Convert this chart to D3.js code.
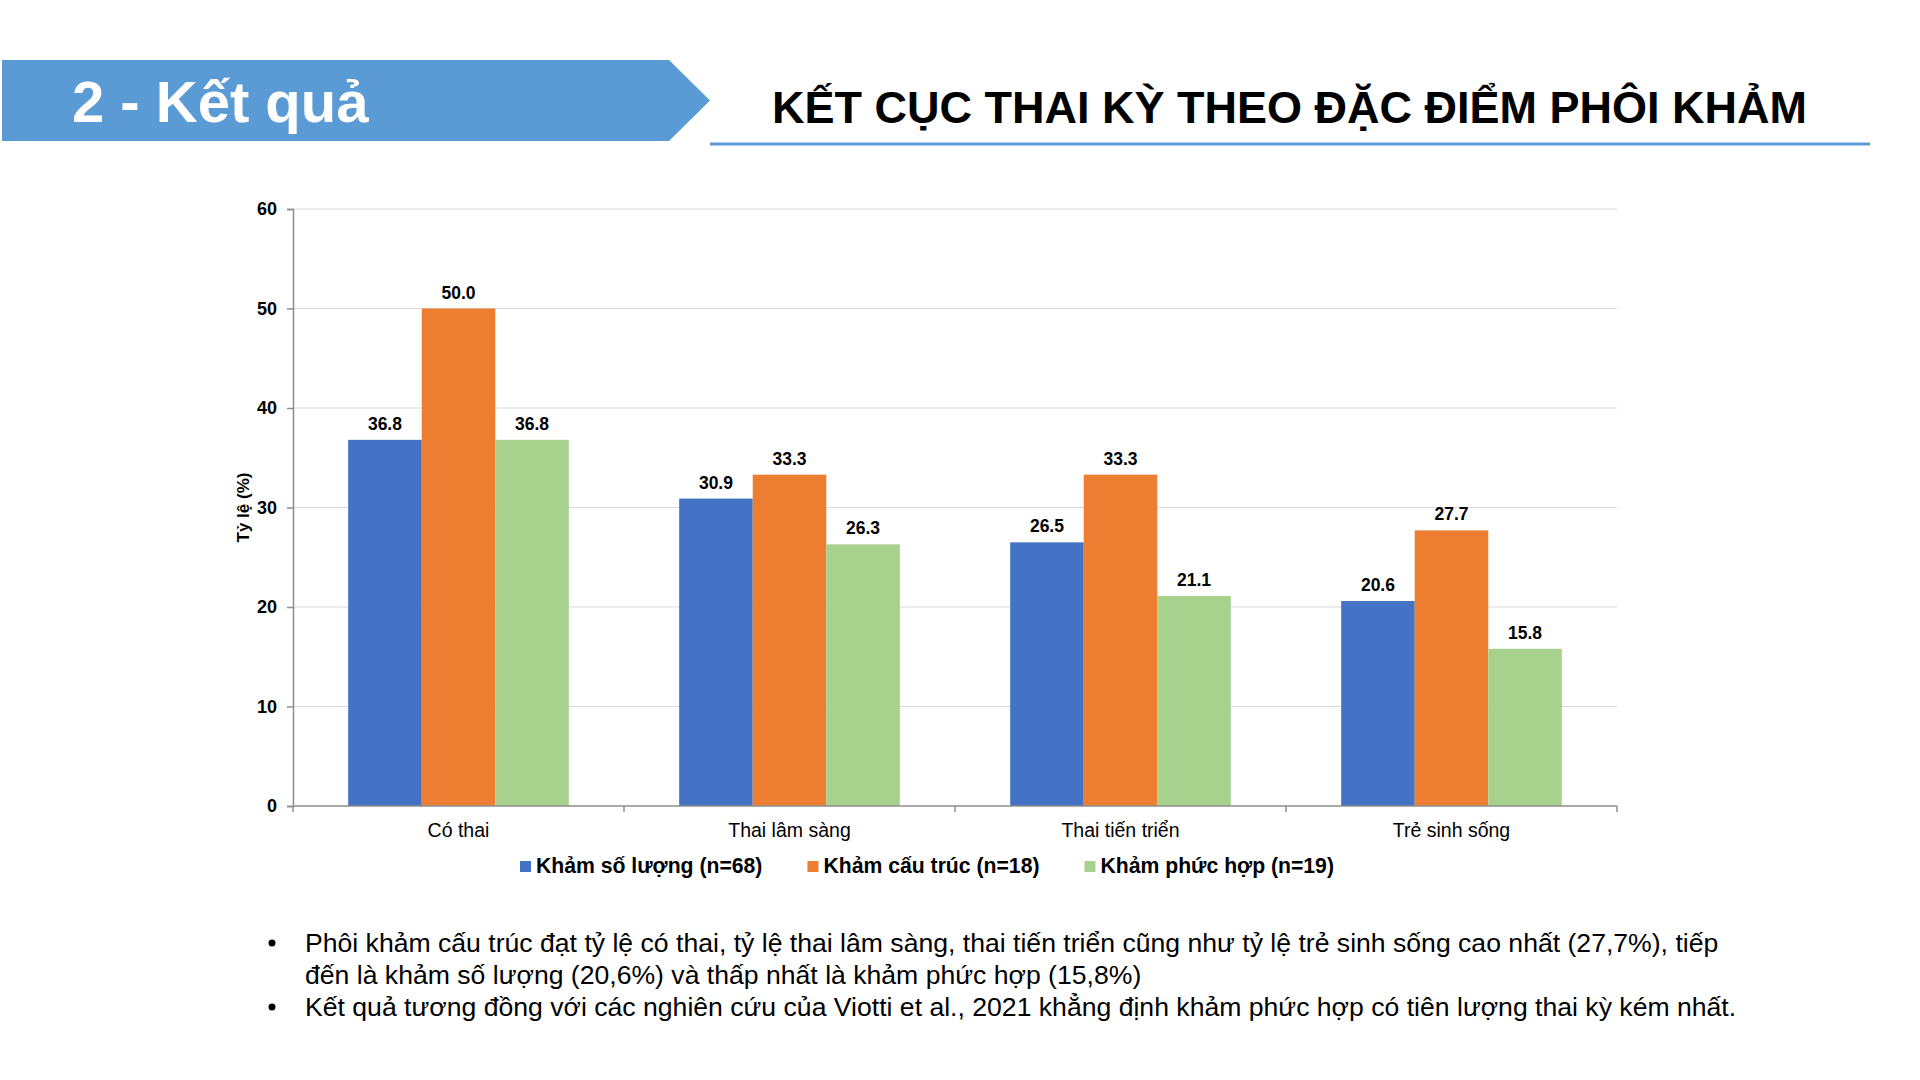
<!DOCTYPE html>
<html lang="vi">
<head>
<meta charset="utf-8">
<title>Kết cục thai kỳ theo đặc điểm phôi khảm</title>
<script src="https://cdn.jsdelivr.net/npm/d3@7"></script>
<style>
  html, body { margin: 0; padding: 0; background: #fff; }
  svg { display: block; font-family: "Liberation Sans", Arial, sans-serif; }
</style>
</head>
<body>
<div id="chart"></div>
<script>
// data
const categories = ['Có thai', 'Thai lâm sàng', 'Thai tiến triển', 'Trẻ sinh sống'];
const seriesNames = ['Khảm số lượng (n=68)', 'Khảm cấu trúc (n=18)', 'Khảm phức hợp (n=19)'];
const khamSoLuong = [36.8, 30.9, 26.5, 20.6];
const khamCauTruc = [50.0, 33.3, 33.3, 27.7];
const khamPhucHop = [36.8, 26.3, 21.1, 15.8];
const yTicks = [0, 10, 20, 30, 40, 50, 60];
const bullets = [
    ['Phôi khảm cấu trúc đạt tỷ lệ có thai, tỷ lệ thai lâm sàng, thai tiến triển cũng như tỷ lệ trẻ sinh sống cao nhất (27,7%), tiếp',
     'đến là khảm số lượng (20,6%) và thấp nhất là khảm phức hợp (15,8%)'],
    ['Kết quả tương đồng với các nghiên cứu của Viotti et al., 2021 khẳng định khảm phức hợp có tiên lượng thai kỳ kém nhất.']
];

const colors = ['#4472C4', '#ED7D31', '#A9D18E'];
const seriesValues = [khamSoLuong, khamCauTruc, khamPhucHop];

const width = 1920, height = 1080;
const svg = d3.select('#chart').append('svg')
    .attr('width', width)
    .attr('height', height);

// header banner
svg.append('polygon')
    .attr('points', '2,60 669,60 710,100.5 669,141 2,141')
    .attr('fill', '#5B9BD5');
svg.append('text')
    .attr('x', 72).attr('y', 122)
    .attr('fill', '#fff')
    .attr('font-size', 58)
    .attr('font-weight', 'bold')
    .text('2 - Kết quả');

svg.append('text')
    .attr('x', 772).attr('y', 123)
    .attr('fill', '#000')
    .attr('font-size', 45)
    .attr('font-weight', 'bold')
    .text('KẾT CỤC THAI KỲ THEO ĐẶC ĐIỂM PHÔI KHẢM');
svg.append('rect')
    .attr('x', 710).attr('y', 142.5)
    .attr('width', 1160).attr('height', 3)
    .attr('fill', '#5B9BD5');

// chart area
const plot = { left: 293, right: 1617, top: 209, bottom: 806 };

const x0 = d3.scaleBand()
    .domain(categories)
    .range([plot.left, plot.right])
    .padding(0);

const x1 = d3.scaleBand()
    .domain(d3.range(seriesNames.length))
    .range([0, x0.bandwidth()])
    .paddingInner(0)
    .paddingOuter(0.75);

const y = d3.scaleLinear()
    .domain([0, 60])
    .range([plot.bottom, plot.top]);

// gridlines
svg.append('g')
    .selectAll('line')
    .data(yTicks.filter(d => d > 0))
    .enter().append('line')
    .attr('x1', plot.left).attr('x2', plot.right)
    .attr('y1', d => y(d)).attr('y2', d => y(d))
    .attr('stroke', '#D9D9D9')
    .attr('stroke-width', 1);

// bars
const groups = svg.append('g')
    .selectAll('g')
    .data(categories)
    .enter().append('g')
    .attr('transform', d => `translate(${x0(d)},0)`);

groups.selectAll('rect')
    .data((d, i) => seriesValues.map((vals, s) => ({ s, v: vals[i] })))
    .enter().append('rect')
    .attr('x', d => x1(d.s))
    .attr('y', d => y(d.v))
    .attr('width', x1.bandwidth())
    .attr('height', d => y(0) - y(d.v))
    .attr('fill', d => colors[d.s]);

groups.selectAll('text')
    .data((d, i) => seriesValues.map((vals, s) => ({ s, v: vals[i] })))
    .enter().append('text')
    .attr('x', d => x1(d.s) + x1.bandwidth() / 2)
    .attr('y', d => y(d.v) - 10)
    .attr('text-anchor', 'middle')
    .attr('font-size', 17.5)
    .attr('font-weight', 'bold')
    .attr('fill', '#000')
    .text(d => d.v.toFixed(1));

// y axis
const yAxis = svg.append('g')
    .attr('transform', `translate(${plot.left},0)`)
    .call(d3.axisLeft(y).tickValues(yTicks).tickSize(6).tickPadding(10).tickFormat(d3.format('d')));
yAxis.select('.domain').attr('stroke', '#8C8C8C').attr('stroke-width', 1.5);
yAxis.selectAll('.tick line').attr('stroke', '#8C8C8C').attr('stroke-width', 1.5);
yAxis.selectAll('.tick text')
    .attr('font-size', 18)
    .attr('font-weight', 'bold')
    .attr('font-family', '"Liberation Sans", Arial, sans-serif')
    .attr('fill', '#000');

svg.append('text')
    .attr('transform', `translate(249,${(plot.top + plot.bottom) / 2}) rotate(-90)`)
    .attr('text-anchor', 'middle')
    .attr('font-size', 17)
    .attr('font-weight', 'bold')
    .attr('fill', '#000')
    .text('Tỷ lệ (%)');

// x axis: baseline, ticks between categories, labels centred
const xAxis = svg.append('g');
xAxis.append('line')
    .attr('x1', plot.left).attr('x2', plot.right)
    .attr('y1', plot.bottom).attr('y2', plot.bottom)
    .attr('stroke', '#8C8C8C').attr('stroke-width', 1.5);
const bounds = categories.map(c => x0(c)).concat([plot.right]);
xAxis.selectAll('.xtick')
    .data(bounds)
    .enter().append('line')
    .attr('x1', d => d).attr('x2', d => d)
    .attr('y1', plot.bottom).attr('y2', plot.bottom + 6)
    .attr('stroke', '#8C8C8C').attr('stroke-width', 1.5);
xAxis.selectAll('.xlabel')
    .data(categories)
    .enter().append('text')
    .attr('x', d => x0(d) + x0.bandwidth() / 2)
    .attr('y', 837)
    .attr('text-anchor', 'middle')
    .attr('font-size', 19.5)
    .attr('fill', '#000')
    .text(d => d);

// legend
const legend = svg.append('g');
let lx = 520;
seriesNames.forEach((name, i) => {
    legend.append('rect')
        .attr('x', lx).attr('y', 861)
        .attr('width', 11).attr('height', 11)
        .attr('fill', colors[i]);
    const t = legend.append('text')
        .attr('x', lx + 16).attr('y', 873)
        .attr('font-size', 21.2)
        .attr('font-weight', 'bold')
        .attr('fill', '#000')
        .text(name);
    lx += 16 + t.node().getComputedTextLength() + 45;
});

// bullet notes
const notes = svg.append('g');
let ly = 952;
bullets.forEach(lines => {
    notes.append('circle')
        .attr('cx', 272).attr('cy', ly - 9)
        .attr('r', 3.5)
        .attr('fill', '#000');
    lines.forEach(line => {
        notes.append('text')
            .attr('x', 305).attr('y', ly)
            .attr('font-size', 26.6)
            .attr('fill', '#000')
            .text(line);
        ly += 32;
    });
});
</script>
</body>
</html>
